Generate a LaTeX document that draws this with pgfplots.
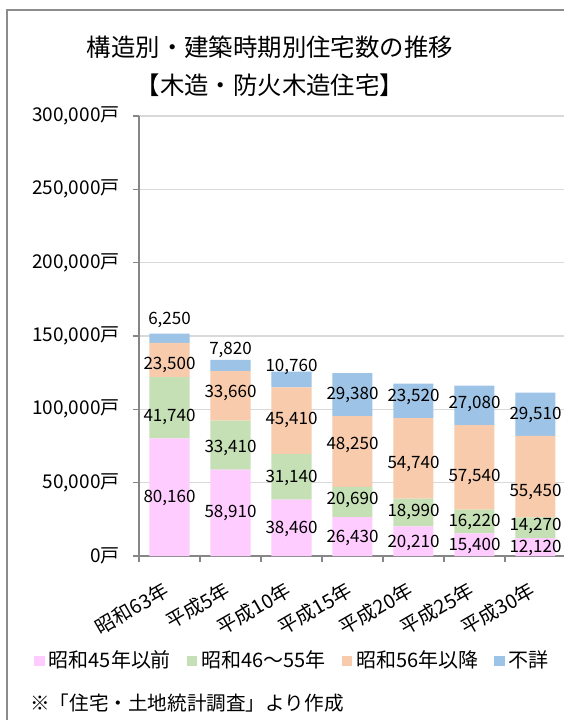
\documentclass[border=0pt]{standalone}
\usepackage{pgfplots}
\pgfplotsset{compat=1.18}
\usepackage{pgfplotstable}
\usepackage{fontspec}
\setmainfont{Noto Sans CJK JP}
\definecolor{cPink}{HTML}{FFCCFF}
\definecolor{cGreen}{HTML}{C5E0B4}
\definecolor{cOrange}{HTML}{F8CBAD}
\definecolor{cBlue}{HTML}{9DC3E6}
\definecolor{axgray}{HTML}{868686}
\definecolor{gridgray}{HTML}{D9D9D9}

\pgfplotstableread{
x pink green orange blue
0 80160 41740 23500 6250
1 58910 33410 33660 7820
2 38460 31140 45410 10760
3 26430 20690 48250 29380
4 20210 18990 54740 23520
5 15400 16220 57540 27080
6 12120 14270 55450 29510
}\housing

\pgfplotstableread{
x y label
0 160900 6,250
0 130200 23,500
0 95000 41,740
0 39300 80,160
1 140450 7,820
1 110900 33,660
1 73400 33,410
1 29100 58,910
2 129100 10,760
2 92700 45,410
2 53000 31,140
2 18200 38,460
3 109800 29,380
3 75700 48,250
3 38200 20,690
3 12100 26,430
4 108200 23,520
4 62700 54,740
4 29800 18,990
4 9100 20,210
5 103600 27,080
5 53700 57,540
5 23400 16,220
5 7000 15,400
6 96100 29,510
6 43800 55,450
6 20500 14,270
6 5250 12,120
}\labels

\pgfplotsset{sqlegend/.style={legend image code/.code={\fill[##1] (0pt,-2.6pt) rectangle (5.2pt,2.6pt);}}}

\begin{document}
\begin{tikzpicture}
\fill[white] (0,0) rectangle (282pt,360pt);
\useasboundingbox (0,0) rectangle (282pt,360pt);
\begin{scope}
\clip (0,0) rectangle (282pt,360pt);
\draw[black!45, line width=0.8pt] (3.5pt,-20pt) rectangle (400pt,355pt);
\node[font=\fontsize{12.2pt}{14pt}\selectfont, inner sep=0pt] at (135pt,336.5pt) {構造別・建築時期別住宅数の推移};
\node[font=\fontsize{12.2pt}{14pt}\selectfont, inner sep=0pt] at (135pt,317.5pt) {【木造・防火木造住宅】};
\node[anchor=west, inner sep=0pt, font=\fontsize{9.8pt}{12pt}\selectfont] at (15pt,8.5pt) {※「住宅・土地統計調査」より作成};
\begin{axis}[
  at={(69.5pt,82pt)}, anchor=south west,
  width=213.5pt, height=220pt, scale only axis,
  ybar stacked, bar width=0.656,
  xmin=-0.5, xmax=6.5, ymin=0, ymax=300000,
  axis lines*=left,
  axis line style={axgray, line width=0.6pt},
  scaled y ticks=false,
  ytick={0,50000,100000,150000,200000,250000,300000},
  yticklabels={{0戸},{50,000戸},{100,000戸},{150,000戸},{200,000戸},{250,000戸},{300,000戸}},
  xtick={0,1,2,3,4,5,6},
  xticklabels={昭和63年,平成5年,平成10年,平成15年,平成20年,平成25年,平成30年},
  minor xtick={-0.5,0.5,1.5,2.5,3.5,4.5,5.5,6.5},
  tick align=outside, major tick length=3pt, minor tick length=3pt,
  tick style={axgray, line width=0.6pt},
  major x tick style={draw=none},
  ymajorgrids, grid style={gridgray, line width=0.6pt},
  yticklabel style={font=\fontsize{9.5pt}{11pt}\selectfont, inner sep=0pt, anchor=east, xshift=-6.5pt},
  xticklabel style={font=\fontsize{9.8pt}{11pt}\selectfont, inner sep=0pt, anchor=north east, yshift=-9pt, xshift=-3.5pt, rotate=30},
  legend columns=4,
  legend style={at={(-0.2459,-0.2386)}, anchor=west, draw=none, fill=none, inner sep=0pt,
    font=\fontsize{10pt}{12pt}\selectfont,
    /tikz/every even column/.append style={column sep=6pt}},
]
\addplot[fill=cPink, draw=none, sqlegend] table[x=x, y=pink] {\housing};
\addlegendentry{昭和45年以前}
\addplot[fill=cGreen, draw=none, sqlegend] table[x=x, y=green] {\housing};
\addlegendentry{昭和46～55年}
\addplot[fill=cOrange, draw=none, sqlegend] table[x=x, y=orange] {\housing};
\addlegendentry{昭和56年以降}
\addplot[fill=cBlue, draw=none, sqlegend] table[x=x, y=blue] {\housing};
\addlegendentry{不詳}
\end{axis}
\begin{axis}[
  at={(69.5pt,82pt)}, anchor=south west,
  width=213.5pt, height=220pt, scale only axis,
  xmin=-0.5, xmax=6.5, ymin=0, ymax=300000,
  hide axis, clip=false,
]
\addplot[draw=none, mark=none, nodes near coords, point meta=explicit symbolic,
  every node near coord/.append style={anchor=center, font=\fontsize{8.5pt}{10pt}\selectfont, text=black, inner sep=0pt}]
  table[x=x, y=y, meta=label] {\labels};
\end{axis}
\end{scope}
\end{tikzpicture}
\end{document}
